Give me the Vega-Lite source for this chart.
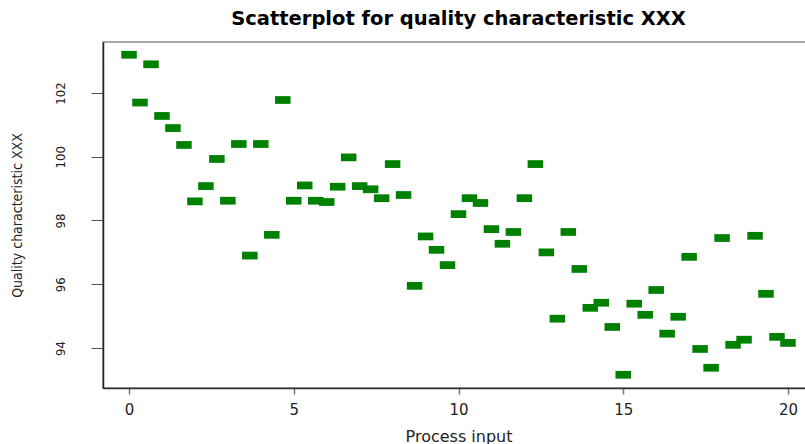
{
  "$schema": "https://vega.github.io/schema/vega-lite/v6.json",
  "autosize": {"type": "none"},
  "padding": {"left": 103, "top": 42, "right": 0, "bottom": 56},
  "width": 711,
  "height": 346,
  "background": "white",
  "title": {
    "text": "Scatterplot for quality characteristic XXX",
    "font": "DejaVu Sans",
    "fontSize": 19.5,
    "fontWeight": "bold",
    "color": "black",
    "anchor": "middle",
    "offset": 13
  },
  "config": {
    "view": {"stroke": "#888888", "strokeWidth": 1.5}
  },
  "data": {
    "values": [
      {"x": 0, "y": 103.2}, {"x": 0.333, "y": 101.7}, {"x": 0.667, "y": 102.9},
      {"x": 1, "y": 101.28}, {"x": 1.333, "y": 100.9}, {"x": 1.667, "y": 100.37},
      {"x": 2, "y": 98.6}, {"x": 2.333, "y": 99.08}, {"x": 2.667, "y": 99.93},
      {"x": 3, "y": 98.62}, {"x": 3.333, "y": 100.4}, {"x": 3.667, "y": 96.9},
      {"x": 4, "y": 100.4}, {"x": 4.333, "y": 97.55}, {"x": 4.667, "y": 101.78},
      {"x": 5, "y": 98.62}, {"x": 5.333, "y": 99.1}, {"x": 5.667, "y": 98.62},
      {"x": 6, "y": 98.58}, {"x": 6.333, "y": 99.06}, {"x": 6.667, "y": 99.98},
      {"x": 7, "y": 99.08}, {"x": 7.333, "y": 98.98}, {"x": 7.667, "y": 98.7},
      {"x": 8, "y": 99.77}, {"x": 8.333, "y": 98.8}, {"x": 8.667, "y": 95.95},
      {"x": 9, "y": 97.5}, {"x": 9.333, "y": 97.08}, {"x": 9.667, "y": 96.6},
      {"x": 10, "y": 98.2}, {"x": 10.333, "y": 98.7}, {"x": 10.667, "y": 98.55},
      {"x": 11, "y": 97.73}, {"x": 11.333, "y": 97.27}, {"x": 11.667, "y": 97.64},
      {"x": 12, "y": 98.7}, {"x": 12.333, "y": 99.77}, {"x": 12.667, "y": 97.0},
      {"x": 13, "y": 94.92}, {"x": 13.333, "y": 97.64}, {"x": 13.667, "y": 96.48},
      {"x": 14, "y": 95.26}, {"x": 14.333, "y": 95.42}, {"x": 14.667, "y": 94.66},
      {"x": 15, "y": 93.16}, {"x": 15.333, "y": 95.39}, {"x": 15.667, "y": 95.04},
      {"x": 16, "y": 95.82}, {"x": 16.333, "y": 94.45}, {"x": 16.667, "y": 94.98},
      {"x": 17, "y": 96.86}, {"x": 17.333, "y": 93.97}, {"x": 17.667, "y": 93.38},
      {"x": 18, "y": 97.45}, {"x": 18.333, "y": 94.1}, {"x": 18.667, "y": 94.26},
      {"x": 19, "y": 97.52}, {"x": 19.333, "y": 95.7}, {"x": 19.667, "y": 94.35},
      {"x": 20, "y": 94.16}
    ]
  },
  "mark": {
    "type": "point",
    "shape": "M-1,-0.5H1V0.5H-1Z",
    "filled": true,
    "fill": "#008000",
    "stroke": null,
    "strokeWidth": 0,
    "opacity": 1,
    "size": 240
  },
  "encoding": {
    "x": {
      "field": "x",
      "type": "quantitative",
      "scale": {"domain": [-0.79, 20.79], "nice": false, "zero": false},
      "axis": {
        "values": [0, 5, 10, 15, 20],
        "title": "Process input",
        "grid": false,
        "domain": true,
        "domainColor": "#333333",
        "domainWidth": 1.5,
        "tickColor": "#777777",
        "tickSize": 6,
        "tickWidth": 1.5,
        "labelFont": "DejaVu Sans",
        "labelFontSize": 15,
        "labelColor": "#222222",
        "labelPadding": 8,
        "titleFont": "DejaVu Sans",
        "titleFontSize": 16,
        "titleFontWeight": "normal",
        "titleColor": "#222222",
        "titlePadding": 11
      }
    },
    "y": {
      "field": "y",
      "type": "quantitative",
      "scale": {"domain": [92.745, 103.6], "nice": false, "zero": false},
      "axis": {
        "values": [94, 96, 98, 100, 102],
        "title": "Quality characteristic XXX",
        "grid": false,
        "domain": true,
        "domainColor": "#222222",
        "domainWidth": 1.5,
        "tickColor": "#555555",
        "tickSize": 12,
        "tickWidth": 1,
        "labelAngle": -90,
        "labelAlign": "center",
        "labelBaseline": "bottom",
        "labelFont": "DejaVu Sans Condensed",
        "labelFontSize": 13,
        "labelColor": "#222222",
        "labelPadding": 24,
        "encode": {"labels": {"update": {"angle": {"value": -90}, "align": {"value": "center"}, "baseline": {"value": "bottom"}}}},
        "titleFont": "DejaVu Sans Condensed",
        "titleFontSize": 14,
        "titleFontWeight": "normal",
        "titleColor": "#222222",
        "titlePadding": 30
      }
    }
  }
}
